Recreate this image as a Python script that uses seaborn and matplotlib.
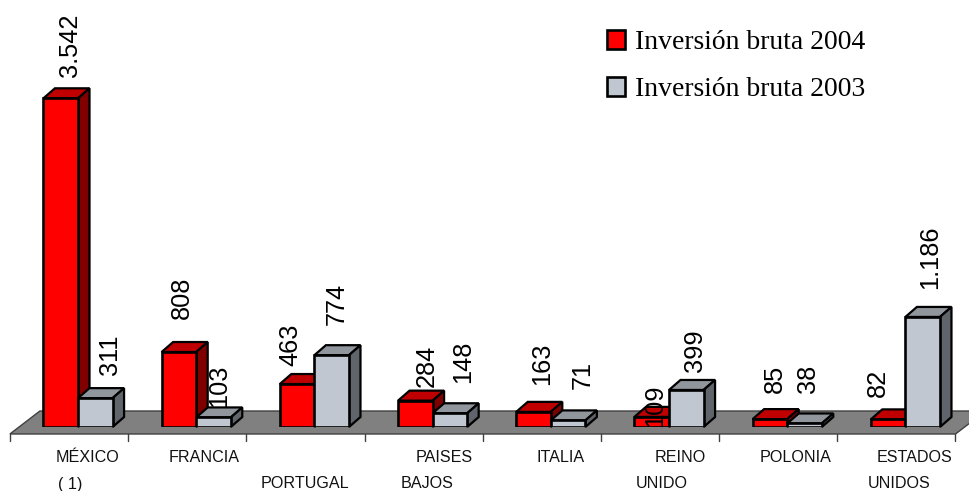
"""Inversión bruta por país, columnas con efecto 3D."""

import matplotlib
matplotlib.use("Agg")
import matplotlib.pyplot as plt
import pandas as pd
import seaborn as sns
from matplotlib.patches import Polygon
from matplotlib.transforms import IdentityTransform

countries = ["MÉXICO", "FRANCIA", "PORTUGAL", "PAISES", "ITALIA", "REINO", "POLONIA", "ESTADOS"]
inv_2004 = [3542, 808, 463, 284, 163, 109, 85, 82]
inv_2003 = [311, 103, 774, 148, 71, 399, 38, 1186]
series_names = ["Inversión bruta 2004", "Inversión bruta 2003"]

# category captions sit on two rows, not centred on the slots: (text, centre x, centre y) in pixels
caption_rows = [
    ("MÉXICO", 88, 457), ("( 1)", 70, 484), ("FRANCIA", 204, 457), ("PORTUGAL", 305, 484),
    ("PAISES", 444, 457), ("BAJOS", 427, 484), ("ITALIA", 561, 457), ("REINO", 680, 457),
    ("UNIDO", 662, 484), ("POLONIA", 796, 457), ("ESTADOS", 915, 457), ("UNIDOS", 899, 484),
]
# value label anchors in pixels (centre x, bottom y)
label_x_2004 = [70, 182, 290, 427, 542, 655, 775, 878]
label_y_2004 = [77, 319, 366, 387, 385, 427, 393, 397]
label_x_2003 = [110, 219, 337, 463, 583, 695, 808, 930]
label_y_2003 = [375, 407, 325, 383, 389, 372, 393, 289]

W, H = 970, 491
BASE_PX = 427
PX_PER_UNIT = 0.0928
SLOT_PX = 118.2
LEFT_PX = 18.9
DEPTH_X, DEPTH_Y = 11.5, 10
FLOOR_SHIFT = 9

FACE = {series_names[0]: ("#ff0000", "#c00000", "#800000"),
        series_names[1]: ("#c0c7d0", "#90969c", "#60656b")}

sns.set_theme(style="white")
plt.rcParams["font.family"] = ["Liberation Sans"]

df = pd.DataFrame({
    "country": countries * 2,
    "value": inv_2004 + inv_2003,
    "series": [series_names[0]] * 8 + [series_names[1]] * 8,
})

fig = plt.figure(figsize=(W / 100, H / 100), dpi=100)
ax = fig.add_axes([LEFT_PX / W, (H - BASE_PX) / H, SLOT_PX * 8 / W, BASE_PX / H])

sns.barplot(
    data=df, x="country", y="value", hue="series", hue_order=series_names,
    palette=[FACE[s][0] for s in series_names], width=0.585, gap=0,
    edgecolor="black", linewidth=1.9, saturation=1, ax=ax,
)
ax.set_xlim(-0.5, 7.5)
ax.set_ylim(0, BASE_PX / PX_PER_UNIT)
ax.axis("off")


def add_px(points, **kwargs):
    # points are (x, y from the top) in image pixels
    pts = [(x, H - y) for x, y in points]
    patch = Polygon(pts, closed=True, transform=IdentityTransform(), clip_on=False, **kwargs)
    ax.add_patch(patch)


def slot_px(pos):
    return ax.transData.transform((pos, 0))[0]


# floor and ticks hang off the category slots
floor_y = BASE_PX + 7
front_l = slot_px(-0.5) - FLOOR_SHIFT
front_r = slot_px(7.5) - FLOOR_SHIFT
add_px(
    [(front_l, floor_y), (front_r, floor_y), (front_r + 30, floor_y - 23), (front_l + 30, floor_y - 23)],
    facecolor="#808080", edgecolor="#404040", linewidth=1.0, zorder=1,
)
for i in range(9):
    x = slot_px(i - 0.5) - FLOOR_SHIFT
    ax.plot([x, x], [H - floor_y, H - floor_y - 7], color="#404040", lw=1.0,
            transform=IdentityTransform(), clip_on=False, zorder=1)

# extruded sides, built from the bars seaborn drew
for s_idx, (name, cont) in enumerate(zip(series_names, ax.containers)):
    front, top, side = FACE[name]
    for bar in cont:
        bar.set_zorder(3 + s_idx * 2)
        (x0, y0), (x1, y1) = ax.transData.transform(
            [(bar.get_x(), 0), (bar.get_x() + bar.get_width(), bar.get_height())]
        )
        y_top, y_bot = H - y1, H - y0
        add_px(
            [(x0, y_top), (x1, y_top), (x1 + DEPTH_X, y_top - DEPTH_Y), (x0 + DEPTH_X, y_top - DEPTH_Y)],
            facecolor=top, edgecolor="black", linewidth=1.6, zorder=2 + s_idx * 2,
        )
        add_px(
            [(x1, y_top), (x1 + DEPTH_X, y_top - DEPTH_Y), (x1 + DEPTH_X, y_bot - DEPTH_Y), (x1, y_bot)],
            facecolor=side, edgecolor="black", linewidth=1.6, zorder=2 + s_idx * 2,
        )

# value labels
for values, xs, ys in [(inv_2004, label_x_2004, label_y_2004), (inv_2003, label_x_2003, label_y_2003)]:
    for v, x, y in zip(values, xs, ys):
        fig.text(x / W, 1 - y / H, f"{v:,}".replace(",", "."), rotation=90, fontsize=18.3,
                 ha="center", va="bottom", color="black", zorder=10)

for text, x, y in caption_rows:
    fig.text(x / W, 1 - y / H, text, fontsize=11.6, ha="center", va="center", color="#111111")

ax.legend(
    loc="upper left", bbox_to_anchor=(607 / W, 1 - 30 / H), bbox_transform=fig.transFigure,
    frameon=False, prop={"family": "Liberation Serif", "size": 19.9},
    handlelength=0.65, handleheight=0.65, handletextpad=0.36, labelspacing=0.8, borderpad=0,
    borderaxespad=0, labelcolor="black", title=None,
)

fig.savefig("out.png", dpi=100)
plt.close(fig)
